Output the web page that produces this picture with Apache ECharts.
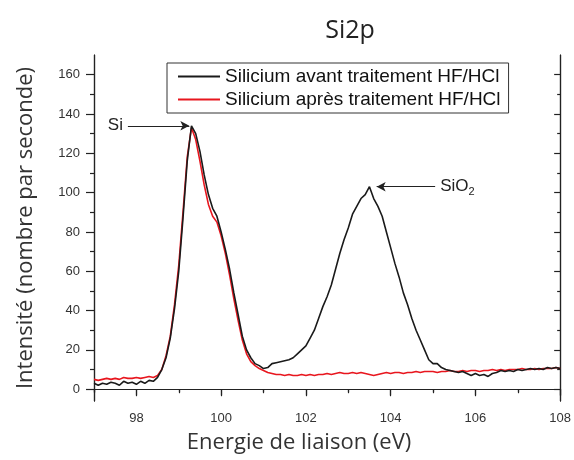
<!DOCTYPE html>
<html><head><meta charset="utf-8">
<script src="https://cdn.jsdelivr.net/npm/echarts@6/dist/echarts.min.js"></script>
<style>html,body{margin:0;padding:0;background:#fff}#c{width:574px;height:460px}</style>
</head><body><div id="c"></div>
<script>
// Binding energy grid (eV)
const energies = [
 97.0,97.1,97.2,97.3,97.4,97.5,97.6,97.7,97.8,97.9,
 98.0,98.1,98.2,98.3,98.4,98.5,98.6,98.7,98.8,98.9,
 99.0,99.1,99.2,99.3,99.4,99.5,99.6,99.7,99.8,99.9,
 100.0,100.1,100.2,100.3,100.4,100.5,100.6,100.7,100.8,100.9,
 101.0,101.1,101.2,101.3,101.4,101.5,101.6,101.7,101.8,101.9,
 102.0,102.1,102.2,102.3,102.4,102.5,102.6,102.7,102.8,102.9,
 103.0,103.1,103.2,103.3,103.4,103.5,103.6,103.7,103.8,103.9,
 104.0,104.1,104.2,104.3,104.4,104.5,104.6,104.7,104.8,104.9,
 105.0,105.1,105.2,105.3,105.4,105.5,105.6,105.7,105.8,105.9,
 106.0,106.1,106.2,106.3,106.4,106.5,106.6,106.7,106.8,106.9,
 107.0,107.1,107.2,107.3,107.4,107.5,107.6,107.7,107.8,107.9,
 108.0];
// Silicium avant traitement HF/HCl
const avant = [
 3,2,3,2.5,3.5,3,2,4,3,3.5,
 2.5,4,3,4.5,4,6,10,16,26,41,
 60,87,116,134,130,121,109,99,92,88,
 80,71,61,49,38,27,20,16,13,12,
 10.5,11,13,13.5,14,14.5,15,16,18,20,
 22,26,30,36,42,47,53,61,69,76,
 82,89,93,97,99,103,97,93,88,80,
 72,64,57,49,43,36,30,25,20,15,
 13,13,11,10,9.5,9,8.5,9,8,7,
 8,7,7.5,6.5,8,8.5,9.5,9,9.5,9,
 10,9.5,10,10.5,10,10.5,10,11,10.5,11,
 10.5];
// Silicium après traitement HF/HCl
const apres = [
 5,4.5,5,5.5,5,5.5,5,6,5.5,5.5,
 6,5.5,6,6.5,6,7,10,17,27,43,
 63,90,118,133,127,116,104,94,88,85,
 78,69,58,46,35,25,18,14,12,10.5,
 9.5,8.5,8,7.5,7.5,7,7.5,7,7,7.5,
 7,7.5,7,7.5,7.5,8,7.5,8,8.5,8,
 8,8.5,8,8.5,8,7.5,7,7.5,8,8.5,
 8,8.5,8.5,8,8.5,8.5,9,8.5,9,9,
 9,8.5,9,9,9.5,9,9,9.5,9,9.5,
 9.5,9,9.5,9.5,10,9.5,10,9.5,10,10,
 10,10.5,10,10,10.5,10,10.5,10.5,10.5,11,
 10.5];
const xMajor = [98,100,102,104,106,108];
const xMinor = [97,99,101,103,105,107];
const yMajor = [0,20,40,60,80,100,120,140,160];
const yMinor = [10,30,50,70,90,110,130,150];
const seriesNames = ['Silicium avant traitement HF/HCl','Silicium après traitement HF/HCl'];

const chart = echarts.init(document.getElementById('c'));
const axLine = {show:true, lineStyle:{color:'#222', width:1.2}};
const lblStyle = {color:'#333', fontFamily:'Liberation Sans', fontSize:13};
function xAx(pos, vals, len, inside, labels, extra){
  return Object.assign({type:'value', min:97, max:108, position:pos, gridIndex:0,
    axisLine:axLine, splitLine:{show:false},
    axisTick:{show:true, customValues:vals, length:len, inside:inside, lineStyle:{color:'#222',width:1.2}},
    axisLabel:labels ? Object.assign({show:true, customValues:vals, margin:11}, lblStyle) : {show:false}
  }, extra||{});
}
function yAx(pos, vals, len, inside, labels, extra){
  return Object.assign({type:'value', min:-6, max:170, position:pos, gridIndex:0,
    axisLine:axLine, splitLine:{show:false},
    axisTick:{show:true, customValues:vals, length:len, inside:inside, lineStyle:{color:'#222',width:1.2}},
    axisLabel:labels ? Object.assign({show:true, customValues:vals, margin:14}, lblStyle) : {show:false}
  }, extra||{});
}
chart.setOption({
  animation:false,
  backgroundColor:'#fff',
  title:{text:'Si2p', left:345, textAlign:'center', top:13,
    textStyle:{fontFamily:'Open Sans', fontSize:25, fontWeight:'normal', color:'#222'}},
  legend:{orient:'vertical', left:167, top:63, data:seriesNames,
    icon:'rect', itemWidth:42, itemHeight:2,
    borderColor:'#333', borderWidth:1, padding:[4,8,4,11], itemGap:4,
    textStyle:{fontFamily:'Liberation Sans', fontSize:19, color:'#111'}},
  grid:{left:94, top:55, right:11, bottom:59},
  xAxis:[
    xAx('bottom', xMajor, 7, false, true, {name:'Energie de liaison (eV)', nameLocation:'middle', nameGap:31,
      nameTextStyle:{fontFamily:'Open Sans', fontSize:22, color:'#333', padding:[0,56,0,0]}}),
    xAx('bottom', xMinor, 4, false, false),
    xAx('top', xMajor, 6, true, false),
    xAx('top', xMinor, 3, true, false)
  ],
  yAxis:[
    yAx('left', yMajor, 8, false, true, {name:'Intensité (nombre par seconde)', nameLocation:'middle', nameGap:57,
      nameTextStyle:{fontFamily:'Open Sans', fontSize:22, color:'#333'}}),
    yAx('left', yMinor, 4, false, false),
    yAx('right', yMajor, 6, true, false),
    yAx('right', yMinor, 3, true, false)
  ],
  series:[
    {name:seriesNames[0], type:'line', xAxisIndex:0, yAxisIndex:0, symbol:'none',
      lineStyle:{color:'#1a1a1a', width:1.6}, itemStyle:{color:'#1a1a1a'}, z:3,
      data:energies.map((e,i)=>[e,avant[i]]),
      markLine:{silent:true, symbol:['none','arrow'], symbolSize:[7,9],
        lineStyle:{color:'#222', width:1, type:'solid'},
        label:{show:true, position:'start', distance:5, color:'#222', fontFamily:'Liberation Sans', fontSize:17,
          rich:{s:{fontSize:11, fontFamily:'Liberation Sans', color:'#222', padding:[10,0,0,0]}}},
        data:[
          [{coord:[97.8,134], label:{formatter:'Si'}},{coord:[99.25,134]}],
          [{coord:[105.05,103], label:{formatter:'SiO{s|2}'}},{coord:[103.67,103]}]
        ]}},
    {name:seriesNames[1], type:'line', xAxisIndex:0, yAxisIndex:0, symbol:'none',
      lineStyle:{color:'#e8161e', width:1.6}, itemStyle:{color:'#e8161e'}, z:2,
      data:energies.map((e,i)=>[e,apres[i]])}
  ]
});
</script></body></html>
